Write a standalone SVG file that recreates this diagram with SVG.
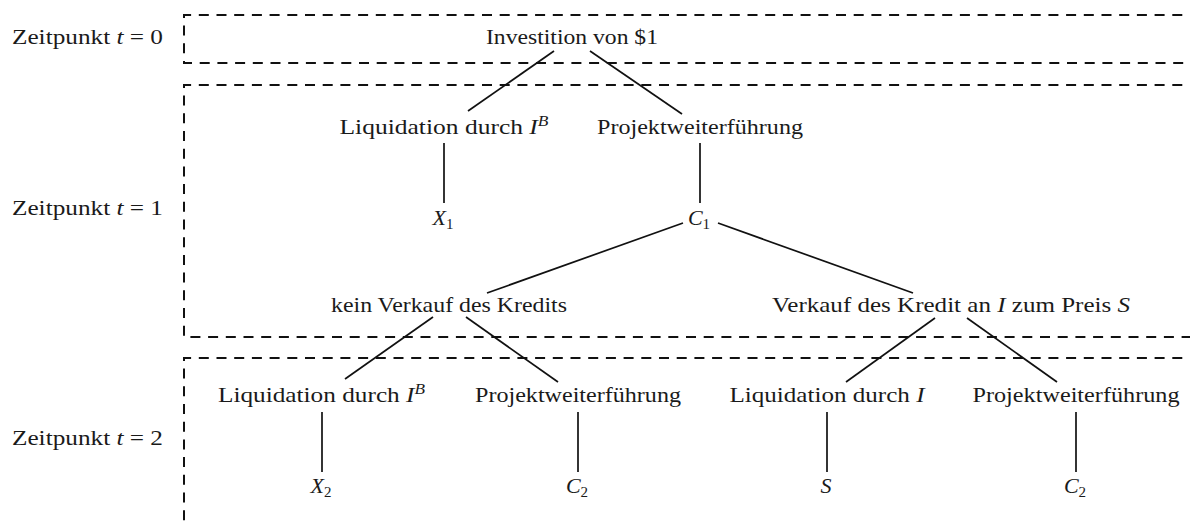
<svg xmlns="http://www.w3.org/2000/svg" width="1190" height="521" viewBox="0 0 1190 521">
<style>
text{font-family:"Liberation Serif","DejaVu Serif","Times New Roman",serif;font-size:22px;fill:#1a1a1a;}
.m{text-anchor:middle;}
.i{font-style:italic;}
.sub{font-size:15px;}
.box{fill:none;stroke:#111;stroke-width:2;stroke-dasharray:10 7.7;}
.edge{stroke:#111;stroke-width:1.7;fill:none;}
</style>
<rect width="1190" height="521" fill="#fff"/>
<g id="stages">
<path class="box" d="M1200,15 H184 V63 H1200"/>
<path class="box" d="M1200,85 H184 V337 H1200"/>
<path class="box" d="M1200,358 H184 V530"/>
</g>
<g id="labels">
<text x="12" y="44" textLength="151" lengthAdjust="spacingAndGlyphs">Zeitpunkt <tspan class="i">t</tspan> = 0</text>
<text x="12" y="215" textLength="151" lengthAdjust="spacingAndGlyphs">Zeitpunkt <tspan class="i">t</tspan> = 1</text>
<text x="12" y="445" textLength="151" lengthAdjust="spacingAndGlyphs">Zeitpunkt <tspan class="i">t</tspan> = 2</text>
</g>
<g id="connectors">
<line class="edge" x1="554" y1="51" x2="468" y2="111"/>
<line class="edge" x1="590" y1="51" x2="682" y2="114"/>
<line class="edge" x1="444" y1="143" x2="444" y2="203"/>
<line class="edge" x1="700" y1="143" x2="700" y2="203"/>
<line class="edge" x1="683" y1="223" x2="487" y2="293"/>
<line class="edge" x1="718" y1="223" x2="913" y2="293"/>
<line class="edge" x1="433" y1="317" x2="345" y2="379"/>
<line class="edge" x1="466" y1="317" x2="558" y2="382"/>
<line class="edge" x1="935" y1="318" x2="846" y2="382"/>
<line class="edge" x1="967" y1="318" x2="1057" y2="382"/>
<line class="edge" x1="322" y1="412" x2="322" y2="472"/>
<line class="edge" x1="578" y1="412" x2="578" y2="472"/>
<line class="edge" x1="827" y1="412" x2="827" y2="472"/>
<line class="edge" x1="1076" y1="412" x2="1076" y2="472"/>
</g>
<g id="n-invest"><text class="m" x="572" y="44" textLength="172" lengthAdjust="spacingAndGlyphs">Investition von $1</text></g>
<g id="n-liq1"><text class="m" x="444" y="134" textLength="209" lengthAdjust="spacingAndGlyphs">Liquidation durch <tspan class="i">I</tspan><tspan class="i sub" dy="-8">B</tspan></text></g>
<g id="n-proj1"><text class="m" x="700" y="134" textLength="206" lengthAdjust="spacingAndGlyphs">Projektweiterführung</text></g>
<g id="n-x1"><text class="m" x="443" y="225"><tspan class="i">X</tspan><tspan class="sub" dy="4">1</tspan></text></g>
<g id="n-c1"><text class="m" x="699" y="225"><tspan class="i">C</tspan><tspan class="sub" dy="4">1</tspan></text></g>
<g id="n-kein"><text class="m" x="449" y="312" textLength="236" lengthAdjust="spacingAndGlyphs">kein Verkauf des Kredits</text></g>
<g id="n-verkauf"><text class="m" x="951" y="312" textLength="358" lengthAdjust="spacingAndGlyphs">Verkauf des Kredit an <tspan class="i">I</tspan> zum Preis <tspan class="i">S</tspan></text></g>
<g id="n-liq2"><text class="m" x="321.5" y="402" textLength="207" lengthAdjust="spacingAndGlyphs">Liquidation durch <tspan class="i">I</tspan><tspan class="i sub" dy="-8">B</tspan></text></g>
<g id="n-proj2"><text class="m" x="578" y="402" textLength="206" lengthAdjust="spacingAndGlyphs">Projektweiterführung</text></g>
<g id="n-liq3"><text class="m" x="827" y="402" textLength="195" lengthAdjust="spacingAndGlyphs">Liquidation durch <tspan class="i">I</tspan></text></g>
<g id="n-proj3"><text class="m" x="1076" y="402" textLength="207" lengthAdjust="spacingAndGlyphs">Projektweiterführung</text></g>
<g id="n-x2"><text class="m" x="321" y="493"><tspan class="i">X</tspan><tspan class="sub" dy="4">2</tspan></text></g>
<g id="n-c2a"><text class="m" x="577" y="493"><tspan class="i">C</tspan><tspan class="sub" dy="4">2</tspan></text></g>
<g id="n-s"><text class="m i" x="826" y="493">S</text></g>
<g id="n-c2b"><text class="m" x="1075" y="493"><tspan class="i">C</tspan><tspan class="sub" dy="4">2</tspan></text></g>
</svg>
